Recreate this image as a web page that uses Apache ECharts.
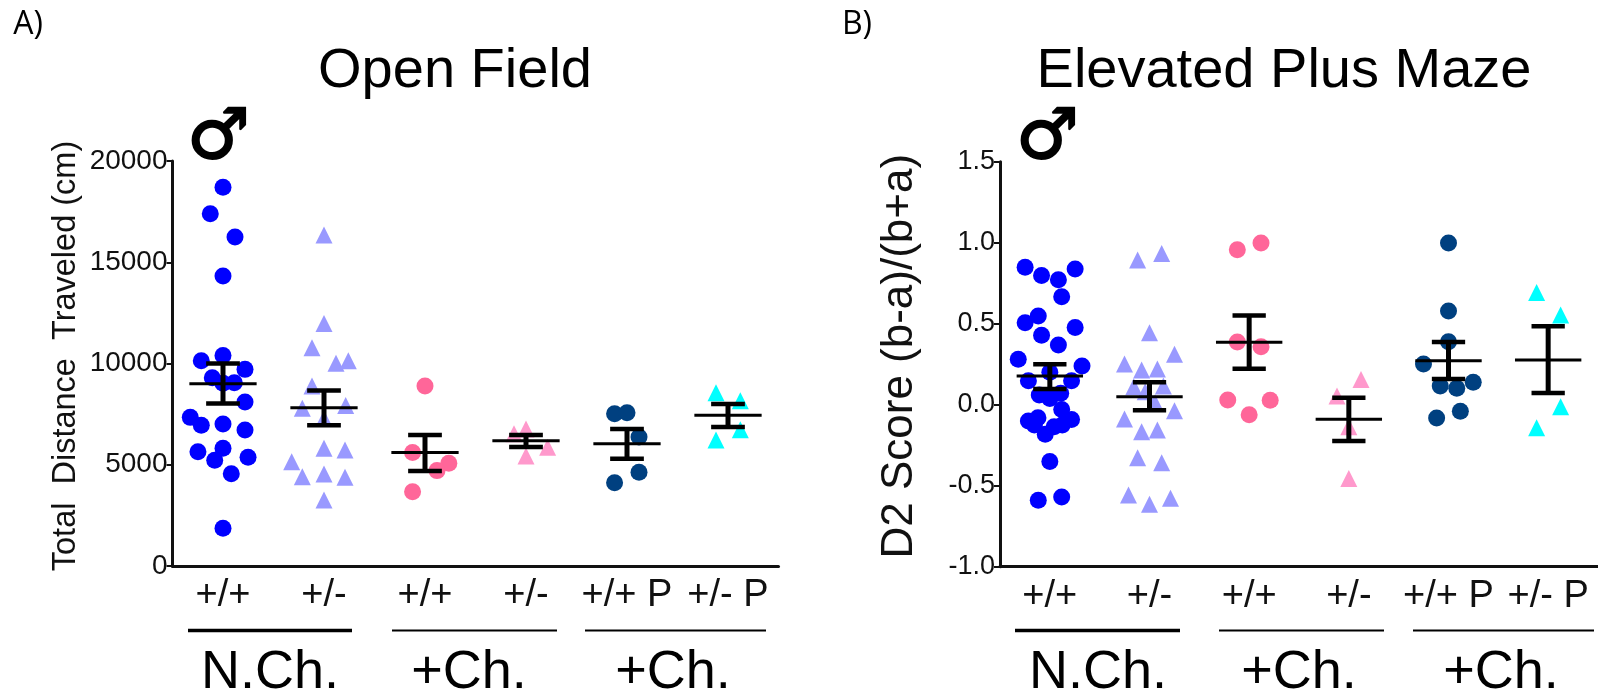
<!DOCTYPE html>
<html>
<head>
<meta charset="utf-8">
<style>html,body{margin:0;padding:0;background:#fff;overflow:hidden}#c{width:1598px;height:698px}</style>
<script src="https://cdn.jsdelivr.net/npm/echarts@6/dist/echarts.min.js"></script>
</head>
<body>
<div id="c"></div>
<script>
// Shared categories
const genotypeLabels = ['+/+', '+/-', '+/+', '+/-', '+/+ P', '+/- P'];
const groupColors = ['#0000FF', '#9999FF', '#FF6699', '#FF99CC', '#004080', '#00FFFF'];
const groupSymbols = ['circle', 'triangle', 'circle', 'triangle', 'circle', 'triangle'];
const cohortLabels = ['N.Ch.', '+Ch.', '+Ch.'];

// A) Open Field: [swarm position, distance in cm]
const ofNChWt = [[1,18700],[0.874,17400],[1.119,16250],[1,14320],[1,10400],[0.785,10140],[1.218,9710],[0.894,9300],[1.112,9050],[1,9020],[1.218,8100],[0.676,7340],[0.785,6950],[1,7010],[1.218,6720],[0.752,5640],[1,5810],[0.918,5220],[1.248,5370],[1.082,4560],[1,1860]];
const ofNChHet = [[2,16350],[2,11980],[1.881,10780],[2.119,10010],[2.241,10140],[1.881,8890],[1.785,7790],[2.215,7920],[2,7290],[2,5810],[2.208,5730],[1.68,5150],[1.785,4410],[2,4540],[2.208,4380],[2,3260]];
const ofChWt = [[3,8890],[2.877,5610],[3.236,5070],[3.119,4710],[2.877,3670]];
const ofChHet = [[3.881,6530],[4,6770],[4.214,5860],[4,5430]];
const ofChWtP = [[4.877,7520],[5,7570],[5.119,6370],[5.119,4630],[4.877,4110]];
const ofChHetP = [[5.881,8550],[6.122,8160],[6.122,6730],[5.881,6220]];
const ofMean = [9000, 7820, 5600, 6190, 6040, 7440];
const ofUpper = [10000, 8670, 6470, 6470, 6770, 8000];
const ofLower = [8030, 6950, 4690, 5880, 5300, 6860];

// B) Elevated Plus Maze: [swarm position, D2 score]
const epmNChWt = [[0.752,0.848],[0.917,0.798],[1.086,0.772],[1.254,0.837],[1.119,0.667],[0.884,0.547],[0.752,0.506],[1.254,0.477],[0.917,0.428],[1.086,0.368],[0.683,0.28],[1.323,0.239],[1,0.2],[0.785,0.148],[1.218,0.148],[0.894,0.06],[1,0.039],[1.109,0.07],[1.119,-0.029],[0.881,-0.08],[0.785,-0.101],[1.218,-0.091],[0.845,-0.126],[1.043,-0.136],[1.125,-0.126],[0.954,-0.183],[1,-0.35],[0.884,-0.59],[1.119,-0.57]];
const epmNChHet = [[1.881,0.893],[2.122,0.934],[2,0.444],[2.251,0.311],[1.749,0.251],[1.921,0.214],[2.079,0.22],[1.842,0.111],[2.139,0.115],[1.957,0.08],[2.056,0.012],[1.749,-0.088],[2.251,-0.037],[1.921,-0.167],[2.079,-0.156],[1.881,-0.327],[2.122,-0.358],[1.789,-0.558],[2.211,-0.578],[2,-0.615]];
const epmChWt = [[2.881,0.957],[3.119,0.998],[2.881,0.387],[3.119,0.358],[2.785,0.029],[3.211,0.027],[3,-0.062]];
const epmChHet = [[4.122,0.156],[3.881,0.053],[4,-0.136],[4,-0.455]];
const epmChWtP = [[5,0.998],[5,0.578],[5,0.389],[4.749,0.251],[5.248,0.138],[4.917,0.115],[5.083,0.101],[5.119,-0.041],[4.881,-0.082]];
const epmChHetP = [[5.884,0.693],[6.125,0.553],[6.125,-0.012],[5.884,-0.142]];
const epmMean = [0.177, 0.049, 0.385, -0.09, 0.272, 0.276];
const epmUpper = [0.249, 0.138, 0.551, 0.043, 0.387, 0.484];
const epmLower = [0.097, -0.035, 0.222, -0.224, 0.158, 0.072];

const FONT = '"Liberation Sans", Arial, sans-serif';
const INK = '#111';

function swarm(groups, axisIdx) {
  return groups.map((d, i) => ({
    type: 'scatter', xAxisIndex: axisIdx, yAxisIndex: axisIdx === 1 ? 0 : 1,
    data: d, symbol: groupSymbols[i], symbolSize: 17,
    itemStyle: { color: groupColors[i], opacity: 1 }, z: 2, silent: true
  }));
}
function errorBars(mean, upper, lower, axisIdx) {
  return {
    type: 'custom', xAxisIndex: axisIdx, yAxisIndex: axisIdx === 1 ? 0 : 1, z: 5, silent: true,
    data: mean.map((m, i) => [i + 1, m, upper[i], lower[i]]),
    encode: { x: 0, y: [1, 2, 3] },
    renderItem(params, api) {
      const x = api.value(0);
      const seg = (x0, y0, x1, y1, w) => {
        const a = api.coord([x0, y0]), b = api.coord([x1, y1]);
        return { type: 'line', shape: { x1: a[0], y1: a[1], x2: b[0], y2: b[1] },
                 style: { stroke: '#000', lineWidth: w } };
      };
      const m = api.value(1), u = api.value(2), l = api.value(3);
      return { type: 'group', children: [
        seg(x - 0.333, m, x + 0.333, m, 3),
        seg(x, l, x, u, 5),
        seg(x - 0.167, u, x + 0.167, u, 4.5),
        seg(x - 0.167, l, x + 0.167, l, 4.5)
      ]};
    }
  };
}
function catAxis(gridIndex) {
  return { type: 'category', gridIndex, data: genotypeLabels, position: 'bottom',
    axisLine: { onZero: false, lineStyle: { color: INK, width: 3 } },
    axisTick: { alignWithLabel: true, length: 7, lineStyle: { color: INK, width: 2 } },
    axisLabel: { interval: 0, color: INK, fontFamily: FONT, fontSize: 38, margin: 11, hideOverlap: false } };
}
function posAxis(gridIndex) {
  return { type: 'value', gridIndex, min: 0.5, max: 6.5, show: false };
}
function yAxis(gridIndex, min, max, interval, name, nameSize, nameGap, shift, labelSize, fmt) {
  return { type: 'value', gridIndex, min, max, interval,
    name, nameLocation: 'middle', nameGap, nameRotate: 90,
    nameTextStyle: { color: INK, fontFamily: FONT, fontSize: nameSize, padding: [0, 0, 0, shift] },
    axisLine: { show: true, onZero: false, lineStyle: { color: INK, width: 3 } },
    axisTick: { show: true, length: 6, lineStyle: { color: INK, width: 2 } },
    splitLine: { show: false },
    axisLabel: { color: INK, fontFamily: FONT, fontSize: labelSize, margin: 5, formatter: fmt } };
}
function txt(x, y, text, size, family, extra) {
  return { type: 'text', x, y, silent: true, style: Object.assign({ text, fontSize: size, fontFamily: family || FONT,
    fill: '#000', align: 'center', verticalAlign: 'middle' }, extra || {}) };
}
function rule(x0, x1, w) {
  return { type: 'line', silent: true, shape: { x1: x0, y1: 630.5, x2: x1, y2: 630.5 }, style: { stroke: '#000', lineWidth: w } };
}
const maleStroke = { stroke: '#000', lineWidth: 2 };

const option = {
  animation: false,
  backgroundColor: '#fff',
  title: [
    { text: 'Open Field', left: 450, top: 39, textAlign: 'center', textStyle: { fontFamily: FONT, fontSize: 56, fontWeight: 'normal', color: '#000' } },
    { text: 'Elevated Plus Maze', left: 1279, top: 39, textAlign: 'center', textStyle: { fontFamily: FONT, fontSize: 56, fontWeight: 'normal', color: '#000' } }
  ],
  grid: [
    { left: 172.5, top: 161, width: 606, height: 405 },
    { left: 1000, top: 161.7, width: 606, height: 405 }
  ],
  xAxis: [catAxis(0), posAxis(0), catAxis(1), posAxis(1)],
  yAxis: [
    yAxis(0, 0, 20000, 5000, 'Total  Distance  Traveled (cm)', 32.5, 90, 15, 28, v => String(v)),
    yAxis(1, -1, 1.5, 0.5, 'D2 Score (b-a)/(b+a)', 44, 78, 16, 27, v => v.toFixed(1))
  ],
  series: [
    ...swarm([ofNChWt, ofNChHet, ofChWt, ofChHet, ofChWtP, ofChHetP], 1),
    errorBars(ofMean, ofUpper, ofLower, 1),
    ...swarm([epmNChWt, epmNChHet, epmChWt, epmChHet, epmChWtP, epmChHetP], 3),
    errorBars(epmMean, epmUpper, epmLower, 3)
  ],
  graphic: [
    txt(28, 25, 'A)', 32, '"Open Sans", sans-serif'),
    txt(857, 25, 'B)', 32, '"Open Sans", sans-serif'),
    txt(218.5, 140, '♂', 70, '"DejaVu Sans", sans-serif', maleStroke),
    txt(1047.5, 140, '♂', 70, '"DejaVu Sans", sans-serif', maleStroke),
    rule(188, 352, 3.5), rule(392, 557, 2.2), rule(585, 766, 2.2),
    rule(1015, 1180, 3.5), rule(1219, 1384, 2.2), rule(1413, 1594, 2.2),
    txt(270, 673, cohortLabels[0], 54), txt(469, 673, cohortLabels[1], 54), txt(673, 673, cohortLabels[2], 54),
    txt(1098, 673, cohortLabels[0], 54), txt(1299, 673, cohortLabels[1], 54), txt(1501, 673, cohortLabels[2], 54)
  ]
};
const chart = echarts.init(document.getElementById('c'), null, { renderer: 'canvas', width: 1598, height: 698 });
chart.setOption(option);
</script>
</body>
</html>
